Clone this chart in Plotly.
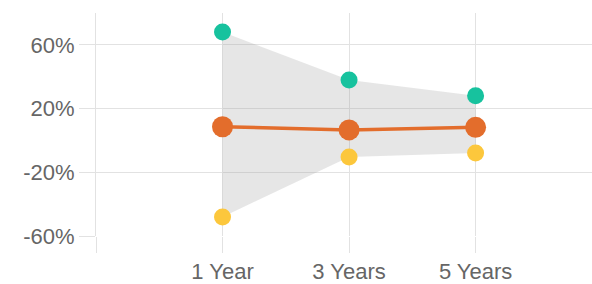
import plotly.graph_objects as go

categories = ["1 Year", "3 Years", "5 Years"]
high_values = [68, 38, 28]
mid_values = [8.6, 6.6, 8.2]
low_values = [-48, -10.4, -7.9]
y_ticks = [-60, -20, 20, 60]
y_tick_labels = ["-60%", "-20%", "20%", "60%"]

xpos = list(range(1, len(categories) + 1))

GRID = "#e2e2e2"
fig = go.Figure()
# band
fig.add_trace(go.Scatter(x=xpos, y=high_values, mode="lines", line=dict(width=0, color="rgba(0,0,0,0)"),
                         showlegend=False, hoverinfo="skip"))
fig.add_trace(go.Scatter(x=xpos, y=low_values, mode="lines", line=dict(width=0, color="rgba(0,0,0,0)"),
                         fill="tonexty", fillcolor="rgba(150,150,150,0.24)", showlegend=False, hoverinfo="skip"))
fig.add_trace(go.Scatter(x=xpos, y=high_values, mode="markers",
                         marker=dict(size=17, color="#17c29e"), showlegend=False))
fig.add_trace(go.Scatter(x=xpos, y=low_values, mode="markers",
                         marker=dict(size=17, color="#fcc73c"), showlegend=False))
fig.add_trace(go.Scatter(x=xpos, y=mid_values, mode="lines+markers",
                         line=dict(width=3.5, color="#e36d2c"),
                         marker=dict(size=21, color="#e36d2c"), showlegend=False))

fig.update_layout(
    width=592, height=284,
    margin=dict(l=96, r=0, t=13, b=48),
    paper_bgcolor="white", plot_bgcolor="white",
    font=dict(family="Liberation Sans, Arial, sans-serif", size=22, color="#666666"),
    xaxis=dict(range=[0, 3.92], tickvals=[0] + xpos, ticktext=[""] + categories, automargin=False,
               showgrid=True, gridcolor=GRID, gridwidth=1, zeroline=False, showline=False,
               ticks="outside", ticklen=16, tickcolor=GRID, tickwidth=1),
    yaxis=dict(range=[-60, 80], tickvals=y_ticks, ticktext=y_tick_labels, automargin=False,
               showgrid=True, gridcolor=GRID, gridwidth=1, zeroline=False,
               showline=True, linecolor=GRID, linewidth=1,
               ticks="outside", ticklen=16, tickcolor=GRID, tickwidth=1),
    hovermode=False,
)
fig.write_html("out.html", config={"displayModeBar": False, "staticPlot": True},
               post_script="document.body.style.margin='0';document.body.style.overflow='hidden';")
